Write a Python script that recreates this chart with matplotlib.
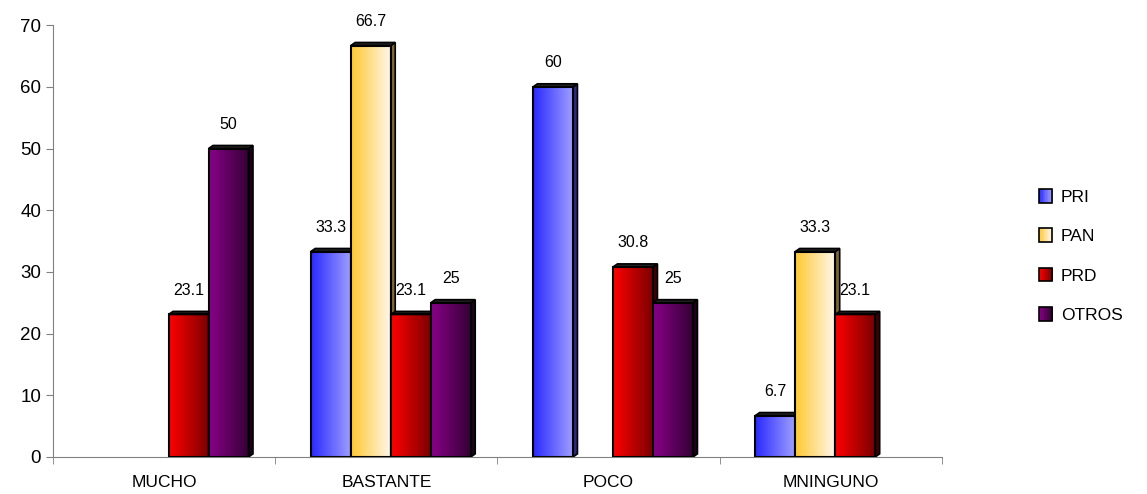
import numpy as np
import matplotlib.pyplot as plt
from matplotlib.colors import LinearSegmentedColormap, to_rgb
from matplotlib.patches import Rectangle, Polygon
from matplotlib.legend_handler import HandlerBase

plt.rcParams['font.family'] = ['Liberation Sans', 'DejaVu Sans']

# data
categories = ['MUCHO', 'BASTANTE', 'POCO', 'MNINGUNO']
series = ['PRI', 'PAN', 'PRD', 'OTROS']
pri = [0, 33.3, 60, 6.7]
pan = [0, 66.7, 0, 33.3]
prd = [23.1, 23.1, 30.8, 23.1]
otros = [50, 25, 25, 0]
values = [pri, pan, prd, otros]

# gradient left -> right, plus side colour
grads = [('#2a2aff', '#a0a0ff', '#2a2a80'),
         ('#ffc832', '#fff8ee', '#806633'),
         ('#ff0000', '#7a0000', '#400000'),
         ('#880088', '#330033', '#200020')]

fig = plt.figure(figsize=(11.47, 4.94), dpi=100)
ax = fig.add_axes([0.0462, 0.075, 0.775, 0.874])

bw = 0.18
dx = 0.02
dy = 0.5
shift = 0.02
grad = np.linspace(0, 1, 64).reshape(1, -1)

for i, (vals, (c1, c2, cs)) in enumerate(zip(values, grads)):
    cmap = LinearSegmentedColormap.from_list('g%d' % i, [c1, c2])
    for j, v in enumerate(vals):
        if v == 0:
            continue
        x0 = j - 2 * bw + i * bw + shift
        x1 = x0 + bw
        z = 2 + i
        ax.imshow(grad, extent=[x0, x1, 0, v], aspect='auto', cmap=cmap,
                  zorder=z, interpolation='bilinear')
        ax.add_patch(Polygon([(x1, 0), (x1 + dx, dy), (x1 + dx, v + dy), (x1, v)],
                             closed=True, facecolor=cs, edgecolor='black', lw=1.2, zorder=z))
        ax.add_patch(Polygon([(x0, v), (x0 + dx, v + dy), (x1 + dx, v + dy), (x1, v)],
                             closed=True, facecolor='#222222', edgecolor='black', lw=1.2, zorder=z))
        ax.add_patch(Rectangle((x0, 0), bw, v, fill=False, edgecolor='black', lw=1.5, zorder=z))
        ax.annotate(('%g' % v), (x0 + bw / 2, v), xytext=(0, 12),
                    textcoords='offset points', ha='center', va='bottom', fontsize=11.5)

ax.set_xlim(-0.5, 3.5)
ax.set_ylim(0, 70)
ax.set_yticks(range(0, 71, 10))
ax.set_xticks(range(4))
ax.set_xticklabels(categories)
ax.set_xticks([-0.5, 0.5, 1.5, 2.5, 3.5], minor=True)
ax.tick_params(axis='x', which='major', length=0, labelsize=12.5, pad=13)
ax.tick_params(axis='x', which='minor', length=5, color='#808080')
ax.tick_params(axis='y', labelsize=13.5, length=5, color='#808080')
for s in ['top', 'right']:
    ax.spines[s].set_visible(False)
for s in ['left', 'bottom']:
    ax.spines[s].set_color('#808080')


class GradHandler(HandlerBase):
    def __init__(self, c1, c2):
        super().__init__()
        self.c1, self.c2 = c1, c2

    def create_artists(self, legend, orig_handle, xdescent, ydescent, width, height, fontsize, trans):
        arts = []
        n = 10
        s = height
        x = xdescent + width - s
        for k in range(n):
            col = np.array(to_rgb(self.c1)) * (1 - k / (n - 1)) + np.array(to_rgb(self.c2)) * (k / (n - 1))
            arts.append(Rectangle((x + k * s / n, -ydescent), s / n + 0.2, s,
                                  facecolor=col, edgecolor='none', transform=trans))
        arts.append(Rectangle((x, -ydescent), s, s, fill=False, edgecolor='black', lw=1.2, transform=trans))
        return arts


handles = [Rectangle((0, 0), 1, 1) for _ in series]
hmap = {h: GradHandler(g[0], g[1]) for h, g in zip(handles, grads)}
leg = fig.legend(handles, series, handler_map=hmap, loc='center left',
                 bbox_to_anchor=(0.891, 0.482), frameon=False, fontsize=12.5,
                 labelspacing=1.35, handlelength=0.85, handleheight=0.85, handletextpad=0.5)

fig.savefig('out.png', dpi=100)
